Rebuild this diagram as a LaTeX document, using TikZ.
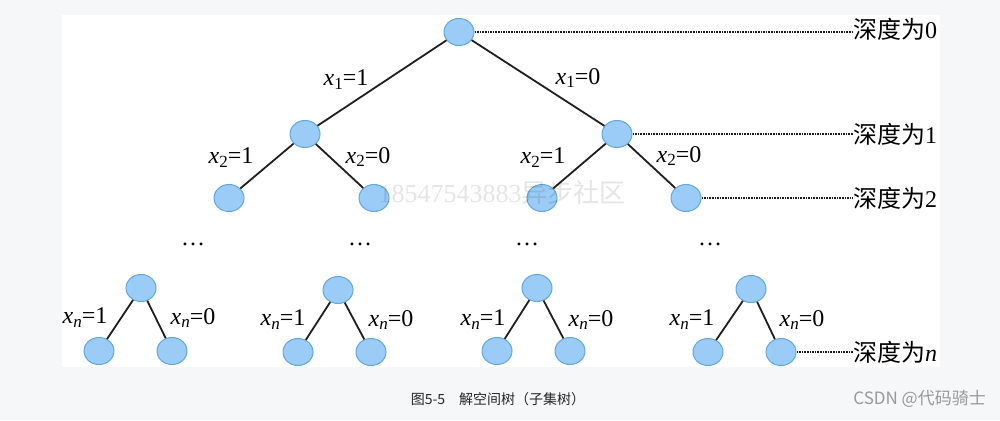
\documentclass[tikz,border=0pt]{standalone}
\usepackage{fontspec}
\setmainfont{Liberation Serif}
\newfontfamily\cjk{Noto Sans CJK SC}
\usetikzlibrary{shapes.geometric}
\definecolor{bg}{HTML}{F5F7F9}
\definecolor{nodefill}{HTML}{9ACCF7}
\definecolor{nodedraw}{HTML}{62A8DA}
\newcommand\xlab[2]{\textit{x}\raisebox{-0.35ex}{\fontsize{17}{17}\selectfont #1}=#2}
\begin{document}
\begin{tikzpicture}[x=1pt,y=-1pt,
  tn/.style={ellipse, draw=nodedraw, fill=nodefill, line width=1pt, minimum width=30pt, minimum height=27pt, inner sep=0pt},
  edge/.style={draw=black!88, line width=1.8pt},
  lvl/.style={draw=black!90, line width=1.4pt, dash pattern=on 1.6pt off 1pt},
  lab/.style={font=\fontsize{24}{24}\selectfont, inner sep=0pt},
  dep/.style={font=\fontsize{24}{24}\selectfont, anchor=west, inner sep=0pt},
  dotsn/.style={font=\fontsize{24}{24}\selectfont, inner sep=0pt},
]
\fill[bg] (0,0) rectangle (1000,420);
\useasboundingbox (0,0) rectangle (1000,420);
\fill[white] (62,15) rectangle (940,367);

% nodes
\node[tn] (r) at (459,32) {};
\node[tn] (a) at (305,134) {};
\node[tn] (b) at (617,134) {};
\node[tn] (aa) at (229,198) {};
\node[tn] (ab) at (374,198) {};
\node[tn] (ba) at (542,198) {};
\node[tn] (bb) at (686,198) {};

% watermark
\node[text=black, opacity=0.1, font=\fontsize{26}{26}\selectfont, inner sep=0pt] (wm) at (502,193) {18547543883{\cjk 异步社区}};

\node[dotsn] (d1) at (193,244) {\dots};
\node[dotsn] (d2) at (360,244) {\dots};
\node[dotsn] (d3) at (527,244) {\dots};
\node[dotsn] (d4) at (710,244) {\dots};

\node[tn] (s1) at (141,288) {};
\node[tn] (s1l) at (99,351) {};
\node[tn] (s1r) at (172,351) {};
\node[tn] (s2) at (338,290) {};
\node[tn] (s2l) at (298,352) {};
\node[tn] (s2r) at (371,352) {};
\node[tn] (s3) at (537,288) {};
\node[tn] (s3l) at (497,351) {};
\node[tn] (s3r) at (570,351) {};
\node[tn] (s4) at (751,289) {};
\node[tn] (s4l) at (708,352) {};
\node[tn] (s4r) at (781,352) {};

% edges
\draw[edge] (r) -- (a);
\draw[edge] (r) -- (b);
\draw[edge] (a) -- (aa);
\draw[edge] (a) -- (ab);
\draw[edge] (b) -- (ba);
\draw[edge] (b) -- (bb);
\draw[edge] (s1) -- (s1l);
\draw[edge] (s1) -- (s1r);
\draw[edge] (s2) -- (s2l);
\draw[edge] (s2) -- (s2r);
\draw[edge] (s3) -- (s3l);
\draw[edge] (s3) -- (s3r);
\draw[edge] (s4) -- (s4l);
\draw[edge] (s4) -- (s4r);

% edge labels
\node[lab] (l1) at (346,80) {\xlab{1}{1}};
\node[lab] (l2) at (578,78) {\xlab{1}{0}};
\node[lab] (l3) at (231,158) {\xlab{2}{1}};
\node[lab] (l4) at (368,157) {\xlab{2}{0}};
\node[lab] (l5) at (543,158) {\xlab{2}{1}};
\node[lab] (l6) at (679,156) {\xlab{2}{0}};
\node[lab] (m1) at (85,318) {\xlab{\textit{n}}{1}};
\node[lab] (m2) at (193,318) {\xlab{\textit{n}}{0}};
\node[lab] (m3) at (283,320) {\xlab{\textit{n}}{1}};
\node[lab] (m4) at (391,320) {\xlab{\textit{n}}{0}};
\node[lab] (m5) at (483,320) {\xlab{\textit{n}}{1}};
\node[lab] (m6) at (591,320) {\xlab{\textit{n}}{0}};
\node[lab] (m7) at (692,320) {\xlab{\textit{n}}{1}};
\node[lab] (m8) at (802,320) {\xlab{\textit{n}}{0}};

% depth labels
\node[dep] (t0) at (853,29) {{\cjk 深度为}0};
\node[dep] (t1) at (853,134) {{\cjk 深度为}1};
\node[dep] (t2) at (853,198) {{\cjk 深度为}2};
\node[dep] (tn) at (853,352) {{\cjk 深度为}\textit{n}};
\draw[lvl] (r.east) -- (t0.west |- r.east);
\draw[lvl] (b.east) -- (t1.west);
\draw[lvl] (bb.east) -- (t2.west);
\draw[lvl] (s4r.east) -- (tn.west);

% caption
\node[font=\cjk\fontsize{14}{14}\selectfont, text=black!85, inner sep=0pt] (cap) at (498,399) {图5-5\quad 解空间树（子集树）};
\node[font=\cjk\fontsize{17}{17}\selectfont, text=black!40, anchor=east, inner sep=0pt] (csdn) at (986,399) {CSDN @代码骑士};
\end{tikzpicture}
\end{document}
